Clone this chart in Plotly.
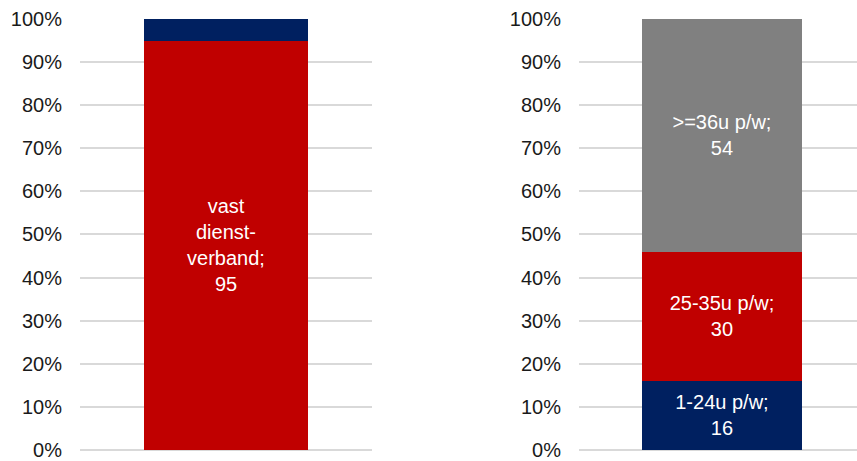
import plotly.graph_objects as go

# Left chart: employment type
left_labels = ["vast<br>dienst-<br>verband", "overig"]
left_values = [95, 5]
left_colors = ["#C00000", "#002060"]
left_show = [True, False]

# Right chart: hours per week
right_labels = ["1-24u p/w", "25-35u p/w", ">=36u p/w"]
right_values = [16, 30, 54]
right_colors = ["#002060", "#C00000", "#808080"]

tick_vals = [0, 10, 20, 30, 40, 50, 60, 70, 80, 90, 100]
tick_text = [f"{v}%" for v in tick_vals]

FONT = "Liberation Sans, Arial, sans-serif"

fig = go.Figure()

for lab, val, col, show in zip(left_labels, left_values, left_colors, left_show):
    fig.add_trace(go.Bar(
        x=[0], y=[val], width=0.56, marker=dict(color=col, line=dict(width=0)),
        text=[f"{lab};<br>{val}"] if show else None,
        textposition="inside" if show else "none",
        insidetextanchor="middle", textangle=0, constraintext="none",
        textfont=dict(color="white", size=20, family=FONT),
        xaxis="x", yaxis="y", showlegend=False, hoverinfo="skip",
    ))

for lab, val, col in zip(right_labels, right_values, right_colors):
    fig.add_trace(go.Bar(
        x=[0], y=[val], width=0.56, marker=dict(color=col, line=dict(width=0)),
        text=[f"{lab};<br>{val}"], textposition="inside",
        insidetextanchor="middle", textangle=0, constraintext="none",
        textfont=dict(color="white", size=20, family=FONT),
        xaxis="x2", yaxis="y2", showlegend=False, hoverinfo="skip",
    ))

W, H = 857, 461
yaxis_common = dict(
    range=[-0.02, 100], tickvals=tick_vals, ticktext=tick_text,
    showgrid=True, gridcolor="#D9D9D9", gridwidth=1.5,
    zeroline=True, zerolinecolor="#D9D9D9", zerolinewidth=1.5,
    showline=False, ticks="", ticklabelstandoff=17,
    ticklabeloverflow="allow",
    tickfont=dict(size=20, color="#1a1a1a", family=FONT),
    fixedrange=True,
)
xaxis_common = dict(showticklabels=False, showgrid=False, zeroline=False,
                    showline=False, ticks="", fixedrange=True)

fig.update_layout(
    width=W, height=H,
    barmode="stack",
    margin=dict(l=0, r=0, t=19, b=9),
    paper_bgcolor="white", plot_bgcolor="white",
    font=dict(family=FONT),
    xaxis=dict(domain=[80 / W, 372 / W], range=[-0.5, 0.5], anchor="y", **xaxis_common),
    yaxis=dict(domain=[0, 1], anchor="x", **yaxis_common),
    xaxis2=dict(domain=[579 / W, 1.0], range=[-0.5, 0.4725], anchor="y2", **xaxis_common),
    yaxis2=dict(domain=[0, 1], anchor="x2", **yaxis_common),
    uniformtext=dict(mode=False),
)

fig.write_html("out.html")
